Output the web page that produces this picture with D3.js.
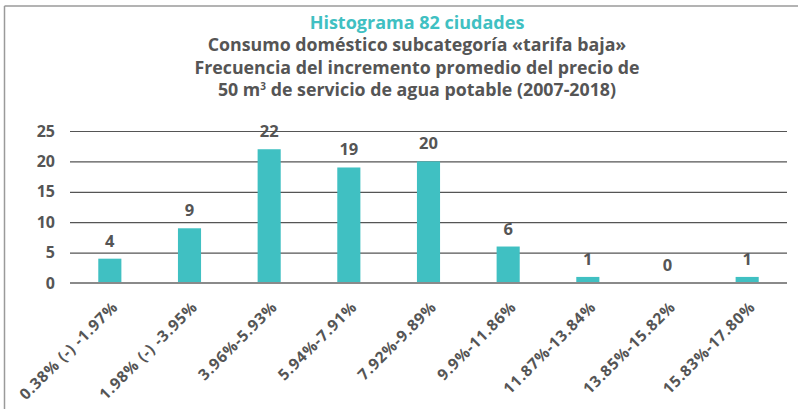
<!DOCTYPE html>
<html>
<head>
<meta charset="utf-8">
<script src="https://cdn.jsdelivr.net/npm/d3@7"></script>
<style>
  html, body { margin: 0; padding: 0; background: #fff; }
  svg { display: block; }
  text { font-family: "Open Sans", "Noto Sans", sans-serif; }
</style>
</head>
<body>
<svg id="chart" width="798" height="409"></svg>
<script>
// Price-increase ranges (bins) and number of cities in each
const categories = [
  "0.38% (-) -1.97%",
  "1.98% (-) -3.95%",
  "3.96%-5.93%",
  "5.94%-7.91%",
  "7.92%-9.89%",
  "9.9%-11.86%",
  "11.87%-13.84%",
  "13.85%-15.82%",
  "15.83%-17.80%"
];
const counts = [4, 9, 22, 19, 20, 6, 1, 0, 1];
const yTicks = [0, 5, 10, 15, 20, 25];

const titleLine = "Histograma 82 ciudades";
const subtitleLines = [
  "Consumo doméstico subcategoría «tarifa baja»",
  "Frecuencia del incremento promedio del precio de"
];

const W = 798, H = 409;
const plot = { left: 70, right: 787, top: 131, bottom: 283 };
const teal = "#40c0c2";
const textGrey = "#555555";

const svg = d3.select("#chart");

// outer frame (top and left edges)
svg.append("line").attr("x1", 4.5).attr("x2", W).attr("y1", 6).attr("y2", 6)
  .attr("stroke", "#9a9a9a").attr("stroke-width", 1.5);
svg.append("line").attr("x1", 4.5).attr("x2", 4.5).attr("y1", 6).attr("y2", H)
  .attr("stroke", "#9a9a9a").attr("stroke-width", 1.5);

// titles
svg.append("text").attr("x", 417).attr("y", 29).attr("text-anchor", "middle")
  .attr("font-size", 18).attr("font-weight", 700).attr("fill", teal).text(titleLine);
subtitleLines.forEach((s, i) => {
  svg.append("text").attr("x", 417).attr("y", 51 + i * 22.5).attr("text-anchor", "middle")
    .attr("font-size", 17.8).attr("font-weight", 700).attr("fill", textGrey).text(s);
});
const last = svg.append("text").attr("x", 417).attr("y", 96).attr("text-anchor", "middle")
  .attr("font-size", 17.8).attr("font-weight", 700).attr("fill", textGrey);
last.append("tspan").text("50 m");
last.append("tspan").attr("font-size", 10).attr("dy", -6).text("3");
last.append("tspan").attr("dy", 6).text(" de servicio de agua potable (2007-2018)");

// scales
const x = d3.scaleBand().domain(categories)
  .range([plot.left, plot.right]).paddingInner(0.71).paddingOuter(0.355);
const y = d3.scaleLinear().domain([0, 25]).range([plot.bottom, plot.top]);

// gridlines + y labels
const yAxis = d3.axisLeft(y).tickValues(yTicks).tickSize(-(plot.right - plot.left)).tickPadding(15);
const gy = svg.append("g").attr("transform", `translate(${plot.left},0)`).call(yAxis);
gy.select(".domain").remove();
gy.selectAll(".tick line").attr("stroke", "#555").attr("stroke-width", 1.2);
gy.selectAll(".tick text").attr("font-size", 16).attr("font-weight", 700)
  .attr("fill", textGrey).attr("font-family", "'Open Sans', sans-serif");
gy.selectAll(".tick").filter(d => d === 0).select("line").attr("stroke-opacity", 0);

// bars
svg.append("g").selectAll("rect").data(counts).join("rect")
  .attr("x", (d, i) => x(categories[i]))
  .attr("y", d => y(d))
  .attr("width", x.bandwidth())
  .attr("height", d => y(0) - y(d))
  .attr("fill", teal);

// baseline
svg.append("line").attr("x1", plot.left).attr("x2", plot.right)
  .attr("y1", y(0)).attr("y2", y(0)).attr("stroke", "#8a8a8a").attr("stroke-width", 2);

// value labels
svg.append("g").selectAll("text").data(counts).join("text")
  .attr("x", (d, i) => x(categories[i]) + x.bandwidth() / 2)
  .attr("y", d => y(d) - 12)
  .attr("text-anchor", "middle")
  .attr("font-size", 16.5).attr("font-weight", 700).attr("fill", textGrey)
  .text(d => d);

// category labels (rotated)
const xAxis = d3.axisBottom(x).tickSize(0).tickPadding(0);
const gx = svg.append("g").attr("transform", `translate(0,${plot.bottom})`).call(xAxis);
gx.select(".domain").remove();
gx.selectAll(".tick text")
  .attr("font-size", 15.5).attr("font-weight", 700).attr("fill", textGrey)
  .attr("font-family", "'Open Sans', sans-serif")
  .attr("letter-spacing", 0.8)
  .attr("text-anchor", "end")
  .attr("dy", null).attr("y", null)
  .attr("transform", "translate(9,25) rotate(-45)");
</script>
</body>
</html>
